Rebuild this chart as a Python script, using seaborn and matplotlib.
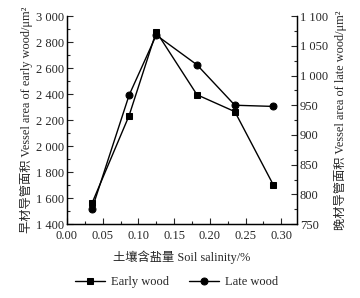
import numpy as np
import pandas as pd
import matplotlib
matplotlib.use("Agg")
import matplotlib.pyplot as plt
import seaborn as sns
from matplotlib.ticker import MultipleLocator, FuncFormatter

# data
salinity = [0.035, 0.087, 0.125, 0.182, 0.235, 0.289]
early_wood = [1560, 2235, 2880, 2395, 2265, 1700]
late_wood = [775, 967, 1068, 1018, 950, 948]

sns.set_theme(style="ticks")
plt.rcParams['font.family'] = ['Liberation Serif', 'Noto Sans CJK SC']
plt.rcParams['axes.unicode_minus'] = False

df = pd.DataFrame({"salinity": salinity, "early": early_wood, "late": late_wood})


def thousands(v, pos):
    s = "{:,.0f}".format(v)
    return s.replace(",", " ")


fig = plt.figure(figsize=(3.6, 2.98), dpi=100)
ax = fig.add_axes([0.186, 0.248, 0.639, 0.698])
ax2 = ax.twinx()

sns.lineplot(data=df, x="salinity", y="early", ax=ax, color="black", marker="s",
             markersize=4.5, linewidth=1, markeredgecolor="black", label="Early wood", legend=False)
sns.lineplot(data=df, x="salinity", y="late", ax=ax2, color="black", marker="o",
             markersize=5, linewidth=1, markeredgecolor="black", label="Late wood", legend=False)

ax.set_xlim(0, 0.322)
ax.set_ylim(1400, 3000)
ax2.set_ylim(750, 1100)

ax.xaxis.set_major_locator(MultipleLocator(0.05))
ax.xaxis.set_minor_locator(MultipleLocator(0.025))
ax.yaxis.set_major_locator(MultipleLocator(200))
ax.yaxis.set_minor_locator(MultipleLocator(100))
ax2.yaxis.set_major_locator(MultipleLocator(50))
ax2.yaxis.set_minor_locator(MultipleLocator(25))
ax.xaxis.set_major_formatter(FuncFormatter(lambda v, p: "{:.2f}".format(v)))
ax.yaxis.set_major_formatter(FuncFormatter(thousands))
ax2.yaxis.set_major_formatter(FuncFormatter(thousands))

for a in (ax, ax2):
    a.tick_params(which="major", direction="in", length=4, width=0.8, labelsize=9, pad=2)
    a.tick_params(which="minor", direction="in", length=2, width=0.8)
    for sp in a.spines.values():
        sp.set_linewidth(0.9)
        sp.set_color("black")
ax.tick_params(axis="x", pad=4)
ax.spines["top"].set_visible(False)
ax2.spines["top"].set_visible(False)

ax.set_xlabel("土壤含盐量 Soil salinity/%", fontsize=8.8, labelpad=6)
ax.set_ylabel("早材导管面积 Vessel area of early wood/μm²", fontsize=8.8, labelpad=2)
ax2.set_ylabel("晚材导管面积 Vessel area of late wood/μm²", fontsize=8.8, labelpad=4)

h1, l1 = ax.get_legend_handles_labels()
h2, l2 = ax2.get_legend_handles_labels()
fig.legend(h1 + h2, l1 + l2, loc="center", bbox_to_anchor=(0.49, 0.053), ncol=2,
           frameon=False, fontsize=9, handlelength=2.4, columnspacing=1.6, handletextpad=0.5)

fig.savefig("out.png", dpi=100)
